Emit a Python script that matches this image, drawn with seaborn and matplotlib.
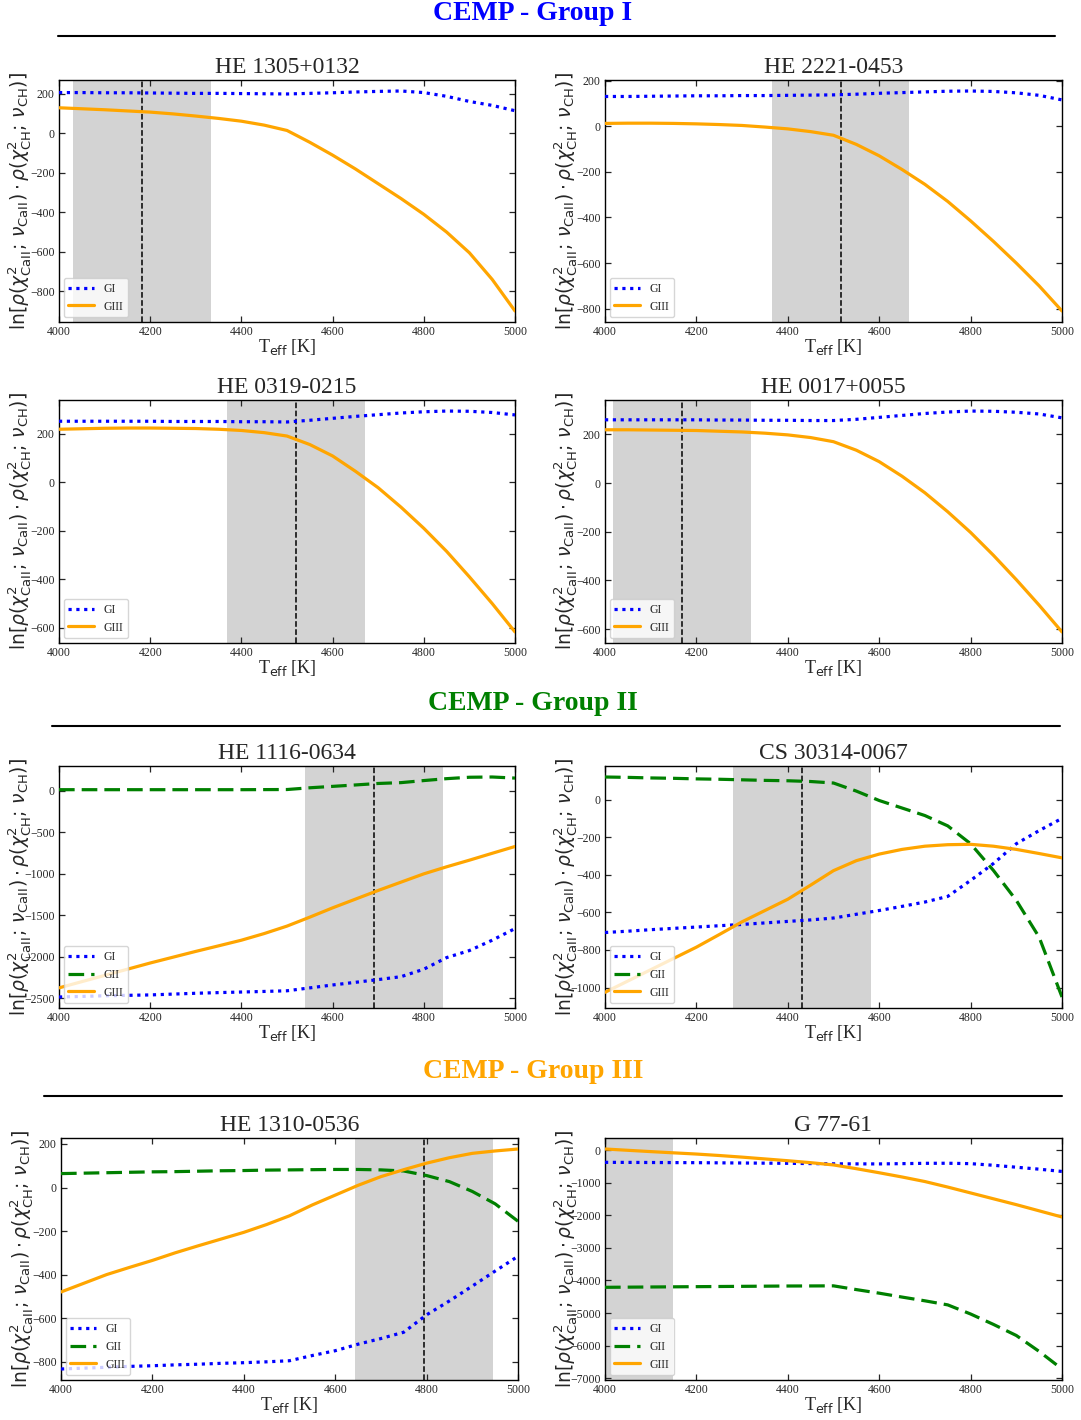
import matplotlib
matplotlib.use("Agg")
import matplotlib.pyplot as plt
from matplotlib.lines import Line2D
import seaborn as sns

# -----------------------------------------------------------------------------
# data: ln-likelihood vs Teff for each star (50 K steps)
# -----------------------------------------------------------------------------
teff = [4000, 4050, 4100, 4150, 4200, 4250, 4300, 4350, 4400, 4450, 4500,
        4550, 4600, 4650, 4700, 4750, 4800, 4850, 4900, 4950, 5000]

# Group I stars
he1305_gi = [207, 207, 206, 206, 205, 204, 203, 203, 202, 201, 200,
             203, 206, 210, 213, 215, 207, 188, 162, 142, 115]
he1305_giii = [130, 125, 120, 114, 108, 99, 88, 76, 62, 42, 15,
               -45, -110, -180, -255, -330, -410, -500, -605, -740, -900]

he2221_gi = [130, 130, 131, 132, 133, 133, 134, 134, 135, 136, 137,
             140, 144, 147, 150, 153, 154, 152, 146, 135, 115]
he2221_giii = [12, 13, 13, 12, 10, 7, 3, -4, -12, -24, -40,
               -80, -130, -190, -255, -330, -415, -505, -600, -700, -810]

he0319_gi = [251, 251, 251, 251, 251, 250, 250, 250, 249, 249, 248,
             255, 263, 271, 278, 285, 290, 293, 292, 287, 277]
he0319_giii = [218, 220, 222, 223, 223, 222, 221, 218, 213, 204, 190,
               155, 108, 45, -23, -103, -190, -285, -390, -500, -617]

he0017_gi = [260, 260, 260, 260, 260, 259, 259, 258, 258, 257, 257,
             262, 270, 278, 286, 292, 296, 295, 291, 284, 268]
he0017_giii = [219, 219, 218, 217, 216, 213, 210, 205, 198, 187, 170,
               135, 88, 28, -40, -118, -203, -297, -397, -502, -612]

# Group II stars
he1116_gi = [-2485, -2478, -2470, -2465, -2460, -2450, -2440, -2432, -2425, -2418, -2410,
             -2375, -2340, -2308, -2275, -2240, -2150, -2010, -1925, -1800, -1660]
he1116_gii = [15, 15, 15, 15, 15, 15, 15, 15, 15, 16, 17,
              38, 55, 72, 90, 100, 125, 148, 165, 168, 155]
he1116_giii = [-2375, -2300, -2225, -2150, -2075, -2005, -1935, -1868, -1800, -1720, -1630,
               -1522, -1410, -1305, -1200, -1100, -1000, -915, -835, -752, -670]

cs30314_gi = [-707, -700, -692, -685, -678, -671, -664, -656, -648, -640, -630,
              -610, -590, -568, -545, -515, -430, -340, -235, -165, -100]
cs30314_gii = [120, 118, 115, 113, 110, 108, 105, 102, 100, 96, 88,
               45, -5, -45, -85, -140, -235, -377, -536, -732, -1050]
cs30314_giii = [-1025, -965, -905, -845, -785, -718, -650, -590, -530, -455, -378,
                -325, -290, -265, -248, -240, -238, -248, -265, -287, -310]

# Group III stars
he1310_gi = [-834, -830, -826, -822, -819, -815, -812, -808, -805, -801, -796,
             -772, -750, -720, -694, -665, -585, -521, -453, -384, -316]
he1310_gii = [64, 66, 68, 70, 72, 73, 75, 77, 78, 80, 81,
              82, 83, 83, 81, 76, 55, 27, -18, -75, -155]
he1310_giii = [-480, -440, -400, -367, -335, -300, -268, -237, -206, -170, -130,
               -80, -35, 10, 50, 82, 112, 137, 157, 168, 177]

g7761_gi = [-370, -372, -375, -378, -380, -385, -390, -395, -400, -408, -415,
            -417, -418, -410, -400, -398, -410, -460, -520, -580, -650]
g7761_gii = [-4210, -4205, -4200, -4195, -4190, -4185, -4180, -4175, -4170, -4168, -4165,
             -4280, -4390, -4510, -4625, -4750, -5030, -5350, -5690, -6180, -6720]
g7761_giii = [40, 0, -40, -78, -115, -160, -210, -265, -320, -380, -450,
              -565, -690, -820, -960, -1130, -1310, -1490, -1670, -1860, -2050]

star_names = ["HE 1305+0132", "HE 2221-0453", "HE 0319-0215", "HE 0017+0055",
              "HE 1116-0634", "CS 30314-0067", "HE 1310-0536", "G 77-61"]
gi_curves = [he1305_gi, he2221_gi, he0319_gi, he0017_gi,
             he1116_gi, cs30314_gi, he1310_gi, g7761_gi]
gii_curves = [None, None, None, None,
              he1116_gii, cs30314_gii, he1310_gii, g7761_gii]
giii_curves = [he1305_giii, he2221_giii, he0319_giii, he0017_giii,
               he1116_giii, cs30314_giii, he1310_giii, g7761_giii]

# adopted Teff range (shaded) and best value (dashed line)
span_lo = [4030, 4366, 4368, 4017, 4540, 4279, 4644, 3850]
span_hi = [4333, 4666, 4670, 4319, 4842, 4581, 4945, 4149]
best_teff = [4182, 4517, 4520, 4168, 4691, 4430, 4795, None]

group_titles = ["CEMP - Group I", "CEMP - Group II", "CEMP - Group III"]

# -----------------------------------------------------------------------------
# layout (pixels in a 1081 x 1420 canvas)
# -----------------------------------------------------------------------------
W, H = 1081, 1420
boxes = [(59, 80, 515, 322), (605, 80, 1062, 322),
         (59, 400, 515, 643), (605, 400, 1062, 643),
         (59, 766, 515, 1008), (605, 766, 1062, 1008),
         (61, 1138, 518, 1380), (605, 1138, 1062, 1380)]
# (text y, rule y, rule x0, rule x1)
header_pos = [(13, 36, 58, 1055), (703, 726, 52, 1060), (1072, 1096, 44, 1062)]
header_colors = ["blue", "green", "orange"]

sns.set_style("ticks")
plt.rcParams["font.family"] = ["Liberation Serif", "DejaVu Serif"]
plt.rcParams["mathtext.fontset"] = "dejavusans"

fig = plt.figure(figsize=(W / 100, H / 100), dpi=100)

ylabel = (r"$\ln[\rho(\chi^2_{\rm CaII};\,\nu_{\rm CaII})\cdot"
          r"\rho(\chi^2_{\rm CH};\,\nu_{\rm CH})]$")

for i, name in enumerate(star_names):
    l, t, r, b = boxes[i]
    ax = fig.add_axes([l / W, 1 - b / H, (r - l) / W, (b - t) / H])

    ax.axvspan(span_lo[i], span_hi[i], color="lightgray", lw=0, zorder=0)
    if best_teff[i] is not None:
        ax.axvline(best_teff[i], color="black", ls="--", lw=1.1, zorder=1)

    handles = []
    sns.lineplot(x=teff, y=gi_curves[i], ax=ax, color="blue", lw=2.3,
                 label="GI", zorder=3, legend=False)
    ax.lines[-1].set_dashes((1, 1.45))
    handles.append(ax.lines[-1])
    if gii_curves[i] is not None:
        sns.lineplot(x=teff, y=gii_curves[i], ax=ax, color="green", lw=2.3,
                     label="GII", zorder=3, legend=False)
        ax.lines[-1].set_dashes((4.9, 2.2))
        handles.append(ax.lines[-1])
    sns.lineplot(x=teff, y=giii_curves[i], ax=ax, color="orange", lw=2.3,
                 label="GIII", zorder=3, legend=False)
    handles.append(ax.lines[-1])

    ax.legend(handles=handles, labels=[h.get_label() for h in handles],
              loc="lower left", fontsize=8.5, handlelength=2.2,
              borderaxespad=0.4)

    ax.set_xlim(4000, 5000)
    ax.set_xticks([4000, 4200, 4400, 4600, 4800, 5000])
    ax.tick_params(direction="in", top=True, right=True, length=4.5,
                   width=0.9, labelsize=8.5, pad=3)
    for sp in ax.spines.values():
        sp.set_linewidth(1.0)
        sp.set_color("black")

    ax.set_title(name, fontsize=17, pad=5)
    ax.set_xlabel(r"T$_{\rm eff}$ [K]", fontsize=13, labelpad=-1)
    ax.set_ylabel(ylabel, fontsize=13.5)
    ax.yaxis.set_label_coords(-26 / (r - l), 0.5)

for k, title in enumerate(group_titles):
    ty, ry, x0, x1 = header_pos[k]
    fig.text(0.493, 1 - ty / H, title, ha="center", va="center",
             fontsize=20, fontweight="bold", color=header_colors[k])
    fig.add_artist(Line2D([x0 / W, x1 / W], [1 - ry / H, 1 - ry / H],
                          color="black", lw=1.5))

fig.savefig("out.png", dpi=100)
